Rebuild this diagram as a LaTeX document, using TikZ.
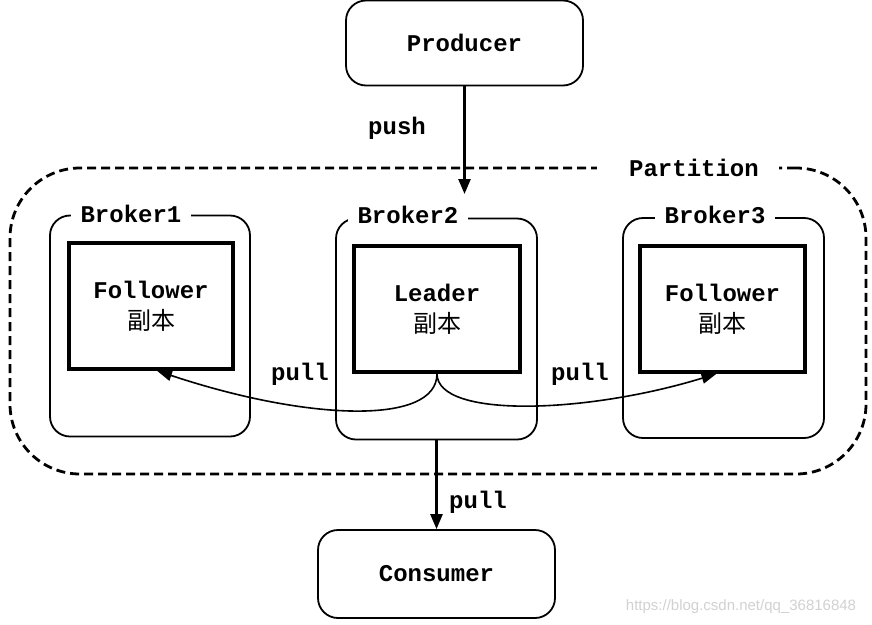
\documentclass[tikz,border=0pt]{standalone}
\usepackage{fontspec}
\setmonofont{Liberation Mono}
\newfontfamily\cjk{Noto Sans CJK SC}
\newfontfamily\wmfont{Liberation Sans}
\usetikzlibrary{arrows.meta,positioning}

\begin{document}
\begin{tikzpicture}[x=1pt,y=-1pt,
    txt/.style={font=\ttfamily\bfseries\fontsize{24}{31}\selectfont},
    endbox/.style={txt,draw,rounded corners=20pt,line width=1.8pt,inner sep=0pt},
    broker/.style={draw,rounded corners=20pt,line width=1.8pt,inner sep=0pt,minimum width=201pt,minimum height=221pt},
    replica/.style={txt,draw,line width=3.5pt,inner sep=0pt,minimum width=164pt,minimum height=126pt,align=center},
    tag/.style={txt,fill=white,inner xsep=10pt,inner ysep=2pt},
    arr/.style={-{Triangle[length=15pt,width=12pt]},line width=2.5pt},
    pullarr/.style={-{Triangle[length=15pt,width=11pt]},line width=1.6pt}]
     \useasboundingbox (0,0) rectangle (872,624);
     \node[draw,dash pattern=on 9pt off 5pt,line width=2.8pt,rounded corners=70pt,minimum width=856pt,minimum height=306pt] (part) at (438,321) {};
     \node[tag,inner xsep=20pt] (partlbl) at (688,168) {\hspace{12pt}Partition};

     \node[endbox,minimum width=237pt,minimum height=85pt] (prod) at (464.5,43) {Producer};
     \node[endbox,minimum width=237pt,minimum height=88pt] (cons) at (436.5,574) {Consumer};

     \node[broker,minimum width=200pt] (bro1) at (150,326) {};
     \node[broker] (bro2) at (436.5,329) {};
     \node[broker,minimum height=220pt] (bro3) at (723.5,328) {};
     \node[tag] (bro1lbl) at (131,214) {Broker1};
     \node[tag] (bro2lbl) at (408,215) {Broker2};
     \node[tag] (bro3lbl) at (715,215) {Broker3};

     \node[replica] (fol1) at (151,306) {Follower\\{\cjk\mdseries 副本}};
     \node[replica,minimum width=166pt] (lead) at (437,309) {Leader\\{\cjk\mdseries 副本}};
     \node[replica,minimum width=165pt] (fol3) at (722.5,309) {Follower\\{\cjk\mdseries 副本}};

     \coordinate (pushend) at (464.5,194);
     \draw[arr] (prod.south) -- (pushend);
     \node[txt] (pushlbl) at (397,128) {push};

     \draw[pullarr] (lead.south) .. controls +(0,52) and +(150,50) .. ([xshift=6pt]fol1.south);
     \draw[pullarr] (lead.south) .. controls +(0,45) and +(-130,40) .. ([xshift=-6pt]fol3.south);
     \node[txt] (pull1) at (300,374) {pull};
     \node[txt] (pull2) at (580,374) {pull};

     \draw[arr] (bro2.south) -- (cons.north);
     \node[txt] (pull3) at (478,502) {pull};

     \node[font=\wmfont\fontsize{15}{15}\selectfont,text=black!18] (wm) at (741,607) {https://blog.csdn.net/qq\_36816848};
\end{tikzpicture}
\end{document}
